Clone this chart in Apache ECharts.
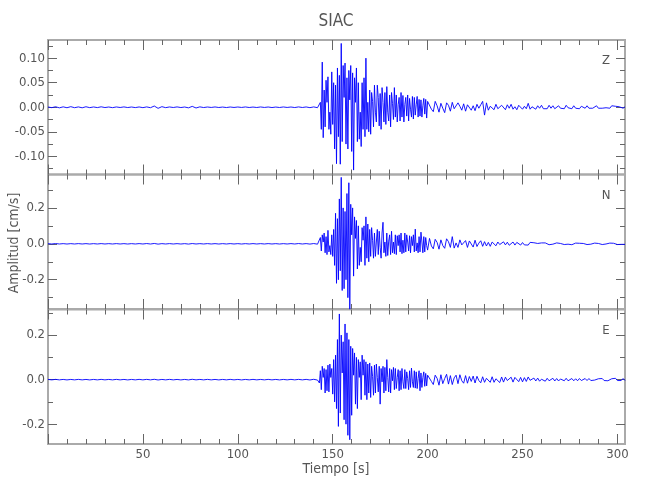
<!DOCTYPE html>
<html><head><meta charset="utf-8">
<script src="https://cdn.jsdelivr.net/npm/echarts@6/dist/echarts.min.js"></script>
<style>html,body{margin:0;padding:0;background:#fff}#c{width:650px;height:500px}</style>
</head><body><div id="c"></div>
<script>
// ---- time segments (s): start, sample step ----
const PRE_T0 = 0, PRE_DT = 2;
const MAIN_T0 = 142.5, MAIN_DT = 0.5;
const CODA_T0 = 201, CODA_DT = 1;

// ---- tick labels ----
const xLabels = [50, 100, 150, 200, 250, 300];
const xMajor = [0, 50, 100, 150, 200, 250, 300];
const xMinor = [10,20,30,40,60,70,80,90,110,120,130,140,160,170,180,190,210,220,230,240,260,270,280,290];
const zMajor = [-0.10, -0.05, 0.00, 0.05, 0.10];
const zMinor = [-0.125, -0.075, -0.025, 0.025, 0.075, 0.125];
const nMajor = [-0.2, 0.0, 0.2];
const nMinor = [-0.3, -0.1, 0.1, 0.3];
const eMajor = [-0.2, 0.0, 0.2];
const eMinor = [-0.1, 0.1, 0.3];
const components = ['Z', 'N', 'E'];

// ---- Z component (cm/s) ----
const zPre = [0.0005,-0.0008,0.001,-0.0012,0.0008,-0.001,0.0012,-0.0009,0.0007,-0.0011,
0.001,-0.0008,0.0006,-0.0007,0.0009,-0.0006,0.0005,-0.0008,0.0006,-0.0005,
0.0007,-0.0006,0.0005,-0.0007,0.0006,-0.0008,0.0007,-0.0009,0.0025,-0.0022,
0.0012,-0.0008,0.0006,-0.0005,0.0007,-0.0006,0.0005,-0.0012,0.0018,-0.0015,
0.0008,-0.0006,0.0005,-0.0004,0.0006,-0.0005,0.0004,-0.0006,0.0005,-0.0004,
0.0005,-0.0004,0.0006,-0.0005,0.0004,-0.0005,0.0006,-0.0004,0.0005,-0.0006,
0.0004,-0.0005,0.0006,-0.0004,0.0005,-0.0006,0.0007,-0.0005,0.0006,-0.0008,
0.0007,-0.0009];
const zMain = [0.002,-0.003,0.01,-0.045,0.092,-0.062,0.035,-0.04,0.055,0.01,
0.062,-0.045,-0.01,-0.055,0.072,-0.035,0.05,-0.085,0.045,-0.115,
0.08,-0.06,0.065,-0.116,0.13,-0.07,0.085,0.02,0.09,-0.075,
0.06,-0.085,0.075,0.015,0.085,-0.09,0.07,-0.128,0.06,0.01,
0.08,-0.07,0.05,-0.065,-0.01,-0.08,0.05,-0.045,0.06,-0.06,
0.1,-0.045,0.01,-0.05,0.035,
-0.055,0.03,0.012,-0.04,0.045,-0.01,-0.03,0.045,0.02,-0.038,
0.028,-0.045,0.04,0.01,-0.03,0.03,-0.035,0.042,-0.01,-0.028,
0.025,-0.04,0.03,0.008,-0.025,0.04,-0.02,0.025,-0.03,0.005,
0.02,-0.028,0.03,-0.02,0.024,-0.03,0.006,0.02,-0.018,0.025,
-0.028,0.018,-0.004,-0.02,0.022,-0.024,0.02,-0.016,0.005,0.022,
-0.02,0.016,-0.018,0.015,-0.02,0.003,0.018,-0.014,0.016,-0.022,
0.012];
const zCoda = [0.011,-0.004,-0.009,0.012,0.003,-0.01,0.008,-0.002,-0.011,0.009,
0.004,-0.008,0.01,-0.003,-0.007,0.009,0.002,-0.006,0.007,-0.008,
0.005,0.007,-0.006,0.003,-0.007,0.006,-0.002,0.005,0.012,-0.016,
0.009,-0.006,0.002,0.005,-0.005,0.006,-0.003,-0.005,0.004,0.002,
-0.005,0.005,-0.002,0.006,-0.004,0.001,-0.005,0.004,0.003,-0.004,
0.002,-0.003,0.008,-0.004,0.001,0.003,-0.004,0.003,-0.002,0.004,
-0.003,0.001,-0.003,0.004,-0.002,0.003,-0.003,0.001,0.003,-0.002,
0.002,-0.003,0.004,-0.001,0.002,-0.003,0.003,-0.002,0.001,-0.003,
0.002,0.001,-0.002,0.003,-0.002,0.001,-0.002,0.002,0.003,-0.002,
0.001,-0.002,0.002,-0.001,0.002,-0.002,0.003,-0.001,0.002,-0.002,
0.001,0.002,-0.002,0.001];

// ---- N component (cm/s) ----
const nPre = [0.001,-0.001,0.0015,-0.001,0.001,-0.0012,0.001,-0.001,0.0012,-0.001,
0.001,-0.0012,0.001,-0.001,0.0012,-0.001,0.001,-0.001,0.0012,-0.001,
0.001,-0.0012,0.001,-0.001,0.0012,-0.001,0.0015,-0.0012,0.002,-0.0018,
0.001,-0.001,0.0012,-0.001,0.001,-0.0012,0.001,-0.0015,0.0015,-0.001,
0.001,-0.001,0.0012,-0.001,0.001,-0.0012,0.001,-0.001,0.0012,-0.001,
0.001,-0.0012,0.001,-0.001,0.0012,-0.001,0.001,-0.001,0.0012,-0.001,
0.001,-0.0012,0.001,-0.001,0.0012,-0.001,0.0015,-0.001,0.0012,-0.0015,
0.0015,-0.002];
const nMain = [0.003,-0.01,0.035,-0.04,0.05,0.01,0.06,-0.05,0.04,-0.06,
0.075,-0.045,-0.01,-0.06,0.05,-0.07,0.08,-0.12,0.17,-0.22,
0.14,-0.2,0.25,-0.15,0.37,-0.26,0.2,-0.25,0.18,-0.2,
0.28,-0.3,0.34,-0.365,0.22,0.05,0.2,-0.18,0.15,0.03,
0.13,-0.14,0.1,-0.12,-0.02,-0.1,0.09,0.02,0.1,-0.12,
0.15,-0.08,0.11,-0.1,0.08,
-0.07,0.09,0.02,-0.08,0.06,-0.07,0.01,0.08,-0.06,0.07,
-0.02,-0.08,0.06,0.12,-0.05,0.01,-0.07,0.06,-0.065,0.015,
0.05,-0.06,0.07,-0.05,0.01,-0.055,0.05,-0.06,0.045,-0.01,
0.05,-0.045,0.06,-0.055,0.02,-0.05,0.06,-0.045,0.05,0.01,
-0.04,0.045,-0.05,0.04,-0.01,0.05,-0.045,0.082,-0.04,0.005,
-0.05,0.04,-0.045,0.065,0.01,-0.05,0.04,-0.045,0.035,-0.01,
-0.035];
const nCoda = [0.03,-0.012,-0.028,0.025,0.008,-0.03,0.022,-0.01,-0.025,0.028,
0.012,-0.02,0.04,-0.024,0.005,-0.02,0.022,-0.006,-0.016,0.018,
-0.02,0.016,0.006,-0.018,0.02,-0.015,0.004,0.017,-0.014,0.012,
-0.012,0.008,-0.014,0.01,0.003,-0.011,0.01,-0.004,-0.009,0.011,
-0.006,0.009,-0.008,0.003,0.01,-0.007,0.008,-0.003,-0.007,0.007,
-0.006,0.004,-0.007,0.008,-0.002,0.006,-0.005,0.002,-0.006,0.005,
-0.004,0.005,0.002,-0.005,0.006,-0.002,-0.004,0.005,-0.005,0.002,
0.004,-0.004,0.005,-0.002,0.004,-0.005,0.002,0.004,-0.004,0.003,
-0.004,0.002,0.004,-0.004,0.005,-0.002,-0.003,0.004,-0.004,0.002,
0.003,-0.004,0.004,-0.001,-0.003,0.004,-0.005,0.003,0.002,-0.004,
0.004,-0.003,0.002,-0.003];

// ---- E component (cm/s) ----
const ePre = [0.001,-0.001,0.0012,-0.001,0.001,-0.0012,0.001,-0.001,0.0012,-0.001,
0.001,-0.0012,0.001,-0.001,0.0012,-0.001,0.001,-0.001,0.0012,-0.001,
0.001,-0.0012,0.001,-0.001,0.0012,-0.001,0.0012,-0.001,0.0015,-0.0015,
0.001,-0.001,0.0012,-0.001,0.001,-0.0012,0.001,-0.0012,0.0015,-0.001,
0.001,-0.001,0.0012,-0.001,0.001,-0.0012,0.001,-0.001,0.0012,-0.001,
0.001,-0.0012,0.001,-0.001,0.0012,-0.001,0.001,-0.001,0.0012,-0.001,
0.001,-0.0012,0.001,-0.001,0.0012,-0.001,0.0012,-0.001,0.0012,-0.0015,
0.0015,-0.002];
const eMain = [0.003,-0.015,0.04,-0.045,0.06,0.01,0.05,-0.06,0.045,-0.05,
0.065,-0.055,0.07,0.01,0.05,-0.065,0.09,-0.1,0.11,-0.13,
0.18,-0.21,0.295,-0.15,0.2,0.03,0.17,-0.18,0.25,-0.2,
0.21,-0.25,0.18,-0.27,0.15,-0.16,0.14,0.02,0.12,-0.11,
0.1,-0.13,0.09,0.01,0.08,-0.09,0.11,0.02,0.09,-0.07,
0.08,-0.09,0.07,-0.06,0.075,
-0.08,0.06,0.015,-0.07,0.065,-0.06,0.07,0.01,-0.055,0.06,
-0.11,0.05,-0.01,0.06,-0.06,0.055,-0.05,0.09,0.01,-0.055,
0.05,-0.06,0.045,-0.005,0.055,-0.045,0.05,-0.04,0.01,0.045,
-0.05,0.04,-0.045,0.05,-0.01,-0.04,0.045,-0.04,0.035,0.005,
-0.045,0.04,-0.035,0.052,-0.01,-0.035,0.04,-0.038,0.035,-0.04,
0.005,0.04,-0.05,0.03,-0.035,0.01,0.035,-0.03,0.028,-0.028,
0.02];
const eCoda = [0.025,-0.008,-0.022,0.02,0.006,-0.025,0.022,-0.018,0.005,0.024,
-0.02,0.018,-0.022,0.008,0.02,-0.018,0.022,-0.005,-0.016,0.018,
-0.016,0.014,-0.008,0.016,-0.015,0.015,-0.004,-0.014,0.013,-0.012,
0.006,0.014,-0.012,0.013,-0.012,0.004,0.012,-0.013,0.012,-0.011,
0.011,-0.004,-0.01,0.011,-0.011,0.01,0.003,-0.009,0.01,-0.01,
0.009,-0.008,0.012,-0.003,-0.008,0.007,-0.006,0.007,-0.007,0.002,
0.006,-0.007,0.006,-0.005,0.002,0.006,-0.006,0.005,-0.006,0.003,
0.005,-0.005,0.006,-0.005,0.001,0.005,-0.005,0.004,-0.005,0.005,
-0.004,0.002,0.005,-0.004,0.005,-0.004,0.004,-0.002,-0.004,0.004,
-0.004,0.005,-0.004,0.004,-0.005,0.002,0.004,-0.004,0.006,-0.004,
0.004,-0.004,0.005,-0.004];

function build(pre, main, coda) {
  const out = [];
  pre.forEach((v, i) => out.push([PRE_T0 + i * PRE_DT, v]));
  main.forEach((v, i) => out.push([MAIN_T0 + i * MAIN_DT, v]));
  coda.forEach((v, i) => out.push([CODA_T0 + i * CODA_DT, v]));
  return out;
}
const traces = [build(zPre, zMain, zCoda), build(nPre, nMain, nCoda), build(ePre, eMain, eCoda)];
const yRanges = [[-0.137, 0.137], [-0.363, 0.386], [-0.289, 0.315]];
const yMajors = [zMajor, nMajor, eMajor];
const yMinors = [zMinor, nMinor, eMinor];
const yDigits = [2, 1, 1];

const FONT = "'Liberation Sans Narrow','DejaVu Sans Condensed','Roboto Condensed',sans-serif";
const TXT = '#555';
const TICK = '#666';
const tops = [40, 174.5, 309.5];
const H = 134.5;

const grid = tops.map(t => ({left: 48, right: 25, top: t, height: H, show: true,
  borderColor: '#aaa', borderWidth: 2, backgroundColor: 'transparent'}));

const xAxis = [], yAxis = [], series = [];
for (let i = 0; i < 3; i++) {
  const base = {gridIndex: i, type: 'value', min: 0, max: 304, axisLine: {show: false, onZero: false},
    splitLine: {show: false}};
  xAxis.push(Object.assign({}, base, {position: 'bottom',
    axisTick: {show: true, inside: true, length: 10, customValues: xMajor, lineStyle: {color: TICK}},
    axisLabel: {show: i === 2, customValues: xLabels, margin: 4, fontFamily: FONT, fontSize: 13, color: TXT}}));
  xAxis.push(Object.assign({}, base, {position: 'bottom',
    axisTick: {show: true, inside: true, length: 5, customValues: xMinor, lineStyle: {color: TICK}},
    axisLabel: {show: false}}));
  xAxis.push(Object.assign({}, base, {position: 'top',
    axisTick: {show: true, inside: true, length: 10, customValues: xMajor, lineStyle: {color: TICK}},
    axisLabel: {show: false}}));
  xAxis.push(Object.assign({}, base, {position: 'top',
    axisTick: {show: true, inside: true, length: 5, customValues: xMinor, lineStyle: {color: TICK}},
    axisLabel: {show: false}}));
  const yb = {gridIndex: i, type: 'value', min: yRanges[i][0], max: yRanges[i][1],
    axisLine: {show: false, onZero: false}, splitLine: {show: false}};
  const d = yDigits[i];
  yAxis.push(Object.assign({}, yb, {position: 'left',
    axisTick: {show: true, inside: true, length: 9, customValues: yMajors[i], lineStyle: {color: TICK}},
    axisLabel: {show: true, customValues: yMajors[i], margin: 3, fontFamily: FONT, fontSize: 13, color: TXT,
      formatter: v => Number(v).toFixed(d)}}));
  yAxis.push(Object.assign({}, yb, {position: 'left',
    axisTick: {show: true, inside: true, length: 5, customValues: yMinors[i], lineStyle: {color: TICK}},
    axisLabel: {show: false}}));
  yAxis.push(Object.assign({}, yb, {position: 'right',
    axisTick: {show: true, inside: true, length: 9, customValues: yMajors[i], lineStyle: {color: TICK}},
    axisLabel: {show: false}}));
  yAxis.push(Object.assign({}, yb, {position: 'right',
    axisTick: {show: true, inside: true, length: 5, customValues: yMinors[i], lineStyle: {color: TICK}},
    axisLabel: {show: false}}));
  series.push({type: 'line', xAxisIndex: i * 4, yAxisIndex: i * 4, data: traces[i],
    showSymbol: false, symbol: 'none', sampling: false, silent: true,
    lineStyle: {color: '#0000ff', width: 0.9}});
}

const graphic = [
  {type: 'text', x: 336, y: 22, style: {text: 'SIAC', fontFamily: FONT, fontSize: 17, fill: TXT, textAlign: 'center', textVerticalAlign: 'middle'}},
  {type: 'text', x: 336, y: 469, style: {text: 'Tiempo [s]', fontFamily: FONT, fontSize: 14, fill: TXT, textAlign: 'center', textVerticalAlign: 'middle'}},
  {type: 'text', x: 14, y: 243, rotation: Math.PI / 2, style: {text: 'Amplitud [cm/s]', fontFamily: FONT, fontSize: 14, fill: TXT, textAlign: 'center', textVerticalAlign: 'middle'}}
];
const labelYs = [61, 196, 331];
components.forEach((c, i) => graphic.push({type: 'text', x: 606, y: labelYs[i],
  style: {text: c, fontFamily: FONT, fontSize: 13, fill: TXT, textAlign: 'center', textVerticalAlign: 'middle'}}));

const chart = echarts.init(document.getElementById('c'), null, {renderer: 'canvas'});
chart.setOption({animation: false, backgroundColor: '#fff', grid, xAxis, yAxis, series, graphic});
</script></body></html>
